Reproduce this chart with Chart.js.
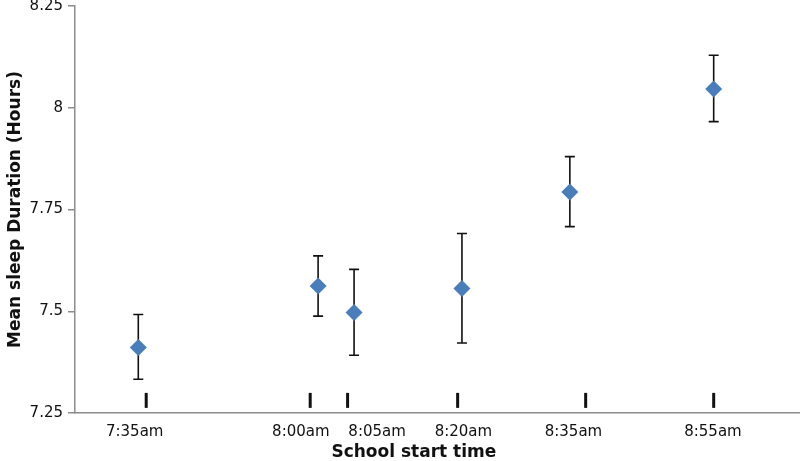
<!DOCTYPE html>
<html>
<head>
<meta charset="utf-8">
<script src="https://cdn.jsdelivr.net/npm/chart.js@4/dist/chart.umd.min.js"></script>
<style>
  html, body { margin: 0; padding: 0; background: #fff; }
  #wrap { width: 800px; height: 461px; }
</style>
</head>
<body>
<div id="wrap"><canvas id="sleepChart"></canvas></div>
<script>
// school start times (minutes after midnight) and the sleep means with error range
const timeLabels = ['7:35am', '8:00am', '8:05am', '8:20am', '8:35am', '8:55am'];
const startMinutes = [455, 480, 485, 500, 515, 535];
const meanSleep = [7.411, 7.562, 7.497, 7.556, 7.793, 8.046];
const errLow = [7.333, 7.488, 7.392, 7.422, 7.708, 7.966];
const errHigh = [7.492, 7.636, 7.603, 7.691, 7.880, 8.129];

// where the tick labels and the small black marks sit (they are a bit off the points)
const labelMinutes = [454.5, 477.6, 488.2, 500.2, 515.5, 534.9];
const markMinutes = [456.1, 478.9, 484.1, 499.4, 517.2, 535];
const markLevel = [7.281, 7.281, 7.281, 7.281, 7.281, 7.281];

const yTickValues = [7.25, 7.5, 7.75, 8, 8.25];
const yTickLabels = ['7.25', '7.5', '7.75', '8', '8.25'];

const errorBars = {
  id: 'errorBars',
  beforeDatasetsDraw(chart) {
    const ctx = chart.ctx;
    const xs = chart.scales.x, ys = chart.scales.y;
    ctx.save();
    ctx.strokeStyle = '#111';
    ctx.lineWidth = 1.6;
    startMinutes.forEach((m, i) => {
      const x = xs.getPixelForValue(m);
      const top = ys.getPixelForValue(errHigh[i]);
      const bot = ys.getPixelForValue(errLow[i]);
      ctx.beginPath();
      ctx.moveTo(x, top); ctx.lineTo(x, bot);
      ctx.moveTo(x - 5, top); ctx.lineTo(x + 5, top);
      ctx.moveTo(x - 5, bot); ctx.lineTo(x + 5, bot);
      ctx.stroke();
    });
    ctx.restore();
  }
};

// drop the extra room chart.js keeps for the outer tick labels
function noEdgePadding(axis) {
  axis.paddingTop = 0;
  axis.paddingBottom = 0;
  axis.paddingLeft = 0;
  axis.paddingRight = 0;
}

const ctx = document.getElementById('sleepChart').getContext('2d');
new Chart(ctx, {
  type: 'scatter',
  data: {
    datasets: [
      {
        label: 'Mean sleep',
        data: startMinutes.map((m, i) => ({x: m, y: meanSleep[i]})),
        pointStyle: 'rectRot',
        pointRadius: 8.5,
        pointHoverRadius: 8.5,
        backgroundColor: '#4a7ebb',
        borderColor: '#4a7ebb',
        borderWidth: 0
      },
      {
        label: 'marks',
        data: markMinutes.map((m, i) => ({x: m, y: markLevel[i]})),
        pointStyle: 'line',
        rotation: 90,
        pointRadius: 7.5,
        pointHoverRadius: 7.5,
        borderColor: '#111',
        borderWidth: 3
      }
    ]
  },
  options: {
    responsive: true,
    maintainAspectRatio: false,
    animation: false,
    layout: { autoPadding: false, padding: { top: 6, left: 0, right: 0, bottom: 0 } },
    plugins: {
      legend: { display: false },
      tooltip: { enabled: false }
    },
    scales: {
      x: {
        type: 'linear',
        min: 446.2,
        max: 547,
        afterBuildTicks: axis => { axis.ticks = labelMinutes.map(v => ({value: v})); },
        afterFit: axis => { axis.height = 48; noEdgePadding(axis); },
        grid: { display: true, drawOnChartArea: false, drawTicks: false },
        border: { color: '#8c8c8c', width: 1.5 },
        ticks: {
          padding: 10,
          maxRotation: 0,
          autoSkip: false,
          color: '#111',
          font: { family: 'DejaVu Sans', size: 15 },
          callback: (v, i) => timeLabels[i]
        },
        title: {
          display: true,
          // trailing spaces nudge the title left, as in the original
          text: 'School start time\u00a0\u00a0\u00a0\u00a0\u00a0\u00a0\u00a0\u00a0',
          color: '#111',
          padding: { top: 0, bottom: 0 },
          font: { family: 'DejaVu Sans', size: 17, weight: 'bold', lineHeight: 1.0 }
        }
      },
      y: {
        min: 7.25,
        max: 8.25,
        afterBuildTicks: axis => { axis.ticks = yTickValues.map(v => ({value: v})); },
        afterFit: axis => { axis.width = 75; noEdgePadding(axis); },
        grid: { drawOnChartArea: false, tickLength: 7, color: '#8c8c8c', lineWidth: 1.5 },
        border: { color: '#8c8c8c', width: 1.5 },
        ticks: {
          padding: 5,
          color: '#111',
          font: { family: 'DejaVu Sans', size: 15 },
          callback: (v, i) => yTickLabels[i]
        },
        title: {
          display: true,
          text: 'Mean sleep Duration (Hours)',
          color: '#111',
          padding: 5,
          font: { family: 'DejaVu Sans', size: 17, weight: 'bold' }
        }
      }
    }
  },
  plugins: [errorBars]
});
</script>
</body>
</html>
